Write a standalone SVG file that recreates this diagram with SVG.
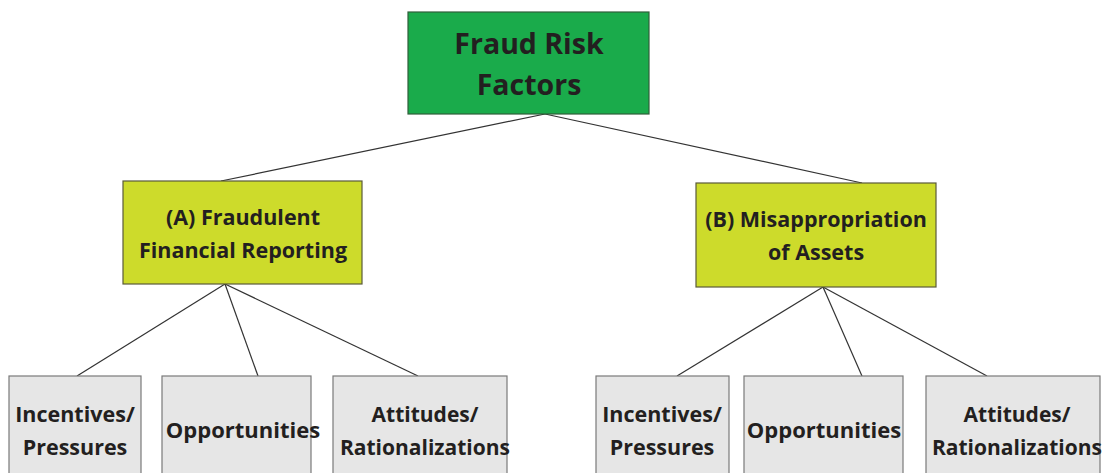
<svg xmlns="http://www.w3.org/2000/svg" width="1110" height="473" viewBox="0 0 1110 473">
<style>
.t{font-family:"Open Sans","DejaVu Sans",sans-serif;font-weight:bold;fill:#231f20;text-anchor:middle}
.top{fill:#1aab4b;stroke:#2f5f3a;stroke-width:1.2}
.mid{fill:#cddb2b;stroke:#5a5a3a;stroke-width:1.2}
.leaf{fill:#e6e6e6;stroke:#7a7a7a;stroke-width:1.2}
.c{stroke:#333;stroke-width:1.2;fill:none}
</style>
<rect width="1110" height="473" fill="#ffffff"/>
<g id="connectors">
<line class="c" x1="545" y1="114" x2="221" y2="181"/>
<line class="c" x1="545" y1="114" x2="862" y2="183"/>
<line class="c" x1="225" y1="284" x2="77" y2="376"/>
<line class="c" x1="225" y1="284" x2="258" y2="376"/>
<line class="c" x1="225" y1="284" x2="418" y2="376"/>
<line class="c" x1="823" y1="287" x2="677" y2="376"/>
<line class="c" x1="823" y1="287" x2="862" y2="376"/>
<line class="c" x1="823" y1="287" x2="987" y2="376"/>
</g>
<g id="root">
<rect class="top" x="408" y="12" width="241" height="102"/>
<text class="t" x="529" y="54" font-size="28.5">Fraud Risk</text>
<text class="t" x="529" y="95" font-size="28.5">Factors</text>
</g>
<g id="nodeA">
<rect class="mid" x="123" y="181" width="239" height="103"/>
<text class="t" x="243" y="225" font-size="21.5">(A) Fraudulent</text>
<text class="t" x="243" y="258" font-size="21.5">Financial Reporting</text>
</g>
<g id="nodeB">
<rect class="mid" x="696" y="183" width="240" height="104"/>
<text class="t" x="816" y="227" font-size="21.5">(B) Misappropriation</text>
<text class="t" x="816" y="260" font-size="21.5">of Assets</text>
</g>
<g id="a1">
<rect class="leaf" x="9" y="376" width="132" height="110"/>
<text class="t" x="75" y="422" font-size="21.5">Incentives/</text>
<text class="t" x="75" y="455" font-size="21.5">Pressures</text>
</g>
<g id="a2">
<rect class="leaf" x="162" y="376" width="149" height="110"/>
<text class="t" x="243" y="438" font-size="22">Opportunities</text>
</g>
<g id="a3">
<rect class="leaf" x="333" y="376" width="174" height="110"/>
<text class="t" x="425" y="422" font-size="21">Attitudes/</text>
<text class="t" x="425" y="455" font-size="21">Rationalizations</text>
</g>
<g id="b1">
<rect class="leaf" x="596" y="376" width="133" height="110"/>
<text class="t" x="662" y="422" font-size="21.5">Incentives/</text>
<text class="t" x="662" y="455" font-size="21.5">Pressures</text>
</g>
<g id="b2">
<rect class="leaf" x="744" y="376" width="159" height="110"/>
<text class="t" x="824" y="438" font-size="22">Opportunities</text>
</g>
<g id="b3">
<rect class="leaf" x="926" y="376" width="174" height="110"/>
<text class="t" x="1017" y="422" font-size="21">Attitudes/</text>
<text class="t" x="1017" y="455" font-size="21">Rationalizations</text>
</g>
</svg>
